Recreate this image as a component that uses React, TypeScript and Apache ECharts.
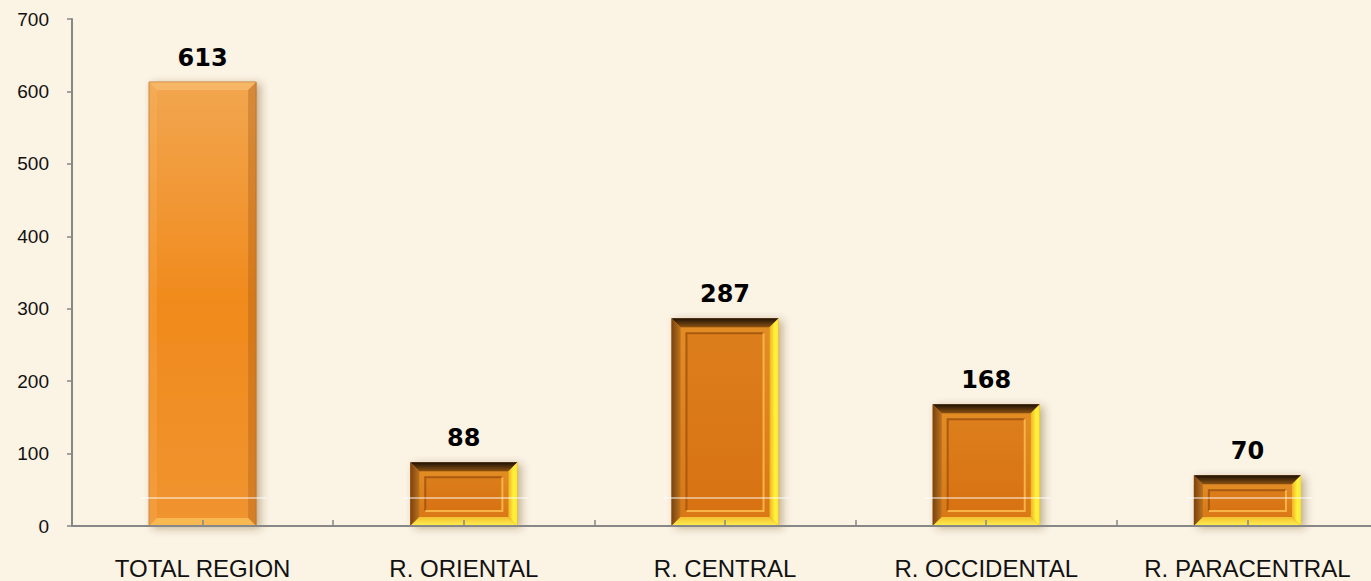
import React, { useEffect, useRef } from 'react';
import * as echarts from 'echarts';

const categories = ['TOTAL REGION', 'R. ORIENTAL', 'R. CENTRAL', 'R. OCCIDENTAL', 'R. PARACENTRAL'];
const values = [613, 88, 287, 168, 70];
const halfSlots = ['', '', '', '', '', '', '', '', '', ''];

const vgrad = (stops: [number, string][]) => ({
  type: 'linear', x: 0, y: 0, x2: 0, y2: 1,
  colorStops: stops.map(([offset, color]) => ({ offset, color })),
});
const hgrad = (stops: [number, string][]) => ({
  type: 'linear', x: 0, y: 0, x2: 1, y2: 0,
  colorStops: stops.map(([offset, color]) => ({ offset, color })),
});

function renderBar(params: any, api: any) {
  const idx = params.dataIndex;
  const topPt = api.coord([api.value(0), api.value(1)]);
  const basePt = api.coord([api.value(0), 0]);
  const band = api.size([1, 0])[0];
  const w = band * 0.41;
  const x0 = topPt[0] - w / 2;
  const x1 = topPt[0] + w / 2;
  const y0 = topPt[1];
  const y1 = basePt[1];
  const h = y1 - y0;
  const children: any[] = [];
  if (idx === 0) {
    const b = 8;
    children.push({
      type: 'rect',
      shape: { x: x0, y: y0, width: w, height: h },
      style: {
        fill: vgrad([[0, '#F2A650'], [0.5, '#F08A1C'], [1, '#F09430']]),
        stroke: '#C97C30', lineWidth: 1,
        shadowBlur: 8, shadowOffsetX: 4, shadowOffsetY: 2, shadowColor: 'rgba(80,50,10,0.35)',
      },
    });
    children.push({ type: 'polygon', shape: { points: [[x0, y0], [x1, y0], [x1 - b, y0 + b], [x0 + b, y0 + b]] }, style: { fill: 'rgba(255,215,150,0.35)' } });
    children.push({ type: 'polygon', shape: { points: [[x0, y0], [x0 + b, y0 + b], [x0 + b, y1 - b], [x0, y1]] }, style: { fill: 'rgba(255,200,120,0.18)' } });
    children.push({ type: 'polygon', shape: { points: [[x1, y0], [x1, y1], [x1 - b, y1 - b], [x1 - b, y0 + b]] }, style: { fill: 'rgba(160,90,20,0.35)' } });
    children.push({ type: 'polygon', shape: { points: [[x0, y1], [x0 + b, y1 - b], [x1 - b, y1 - b], [x1, y1]] }, style: { fill: 'rgba(255,215,110,0.55)' } });
  } else {
    const b = 9;
    const inset = 15;
    children.push({
      type: 'rect',
      shape: { x: x0, y: y0, width: w, height: h },
      style: {
        fill: '#D97614',
        shadowBlur: 8, shadowOffsetX: 4, shadowOffsetY: 2, shadowColor: 'rgba(80,50,10,0.35)',
      },
    });
    children.push({ type: 'rect', shape: { x: x0 + b, y: y0 + b, width: w - 2 * b, height: h - 2 * b }, style: { fill: vgrad([[0, '#E28C24'], [1, '#DA7816']]) } });
    children.push({ type: 'polygon', shape: { points: [[x0, y0], [x1, y0], [x1 - b, y0 + b], [x0 + b, y0 + b]] }, style: { fill: vgrad([[0, '#1C1005'], [1, '#8A5212']]) } });
    children.push({ type: 'polygon', shape: { points: [[x0, y0], [x0 + b, y0 + b], [x0 + b, y1 - b], [x0, y1]] }, style: { fill: hgrad([[0, '#7A420E'], [1, '#BA721E']]) } });
    children.push({ type: 'polygon', shape: { points: [[x1, y0], [x1, y1], [x1 - b, y1 - b], [x1 - b, y0 + b]] }, style: { fill: hgrad([[0, '#F0B424'], [0.6, '#FFF43C'], [1, '#FFE430']]) } });
    children.push({ type: 'polygon', shape: { points: [[x0, y1], [x0 + b, y1 - b], [x1 - b, y1 - b], [x1, y1]] }, style: { fill: vgrad([[0, '#F2C030'], [1, '#FFF050']]) } });
    const ix0 = x0 + inset, ix1 = x1 - inset, iy0 = y0 + inset, iy1 = y1 - inset;
    if (iy1 > iy0) {
      children.push({ type: 'rect', shape: { x: ix0, y: iy0, width: ix1 - ix0, height: iy1 - iy0 }, style: { fill: vgrad([[0, '#DC7E1C'], [1, '#D87212']]) } });
      children.push({ type: 'polyline', shape: { points: [[ix0, iy1], [ix0, iy0], [ix1, iy0]] }, style: { stroke: '#A85A10', lineWidth: 2, fill: null } });
      children.push({ type: 'polyline', shape: { points: [[ix1, iy0], [ix1, iy1], [ix0, iy1]] }, style: { stroke: '#F6B444', lineWidth: 2, fill: null } });
    }
  }
  const ly = y1 - 28;
  children.push({ type: 'line', shape: { x1: x0 - 8, y1: ly, x2: x1 + 11, y2: ly }, style: { stroke: 'rgba(255,255,255,0.95)', lineWidth: 1.2 } });
  return { type: 'group', children };
}

export default function App() {
  const ref = useRef<HTMLDivElement>(null);
  useEffect(() => {
    if (!ref.current) return;
    const chart = echarts.init(ref.current, undefined, { renderer: 'svg' });
    chart.setOption({
      animation: false,
      backgroundColor: '#FBF3E3',
      grid: { left: 72, right: 0, top: 19, bottom: 55, containLabel: false },
      xAxis: [
        {
          type: 'category',
          data: categories,
          axisLine: { show: true, lineStyle: { color: '#878787', width: 2 } },
          axisTick: { show: false },
          axisLabel: { interval: 0, margin: 30, color: '#111', fontSize: 24, fontFamily: 'Liberation Sans, Arial, sans-serif' },
          z: 5,
        },
        {
          type: 'category',
          data: halfSlots,
          position: 'bottom',
          axisLine: { show: false },
          axisTick: { show: true, inside: true, length: 6, lineStyle: { color: '#878787', width: 1.5 } },
          axisLabel: { show: false },
          z: 6,
        },
      ],
      yAxis: {
        type: 'value',
        min: 0,
        max: 700,
        interval: 100,
        axisLine: { show: true, lineStyle: { color: '#878787', width: 2 } },
        axisTick: { show: true, length: 5, lineStyle: { color: '#878787', width: 1.5 } },
        splitLine: { show: false },
        axisLabel: { margin: 23, color: '#111', fontSize: 19, fontFamily: 'Liberation Sans, Arial, sans-serif' },
      },
      series: [
        {
          type: 'custom',
          xAxisIndex: 0,
          renderItem: renderBar,
          data: values.map((v, i) => [i, v]),
          encode: { x: 0, y: 1 },
          z: 2,
        },
        {
          type: 'bar',
          xAxisIndex: 0,
          data: values,
          barWidth: '41%',
          itemStyle: { color: 'rgba(0,0,0,0)' },
          label: {
            show: true,
            position: 'top',
            distance: 12,
            color: '#000',
            fontSize: 24,
            fontWeight: 'bold',
            fontFamily: 'DejaVu Sans, sans-serif',
          },
          z: 3,
        },
      ],
    });
    return () => chart.dispose();
  }, []);
  return (
    <div style={{ position: 'fixed', left: 0, top: 0, width: 1371, height: 581, overflow: 'hidden' }}>
      <div ref={ref} style={{ width: 1378, height: 581 }} />
    </div>
  );
}
